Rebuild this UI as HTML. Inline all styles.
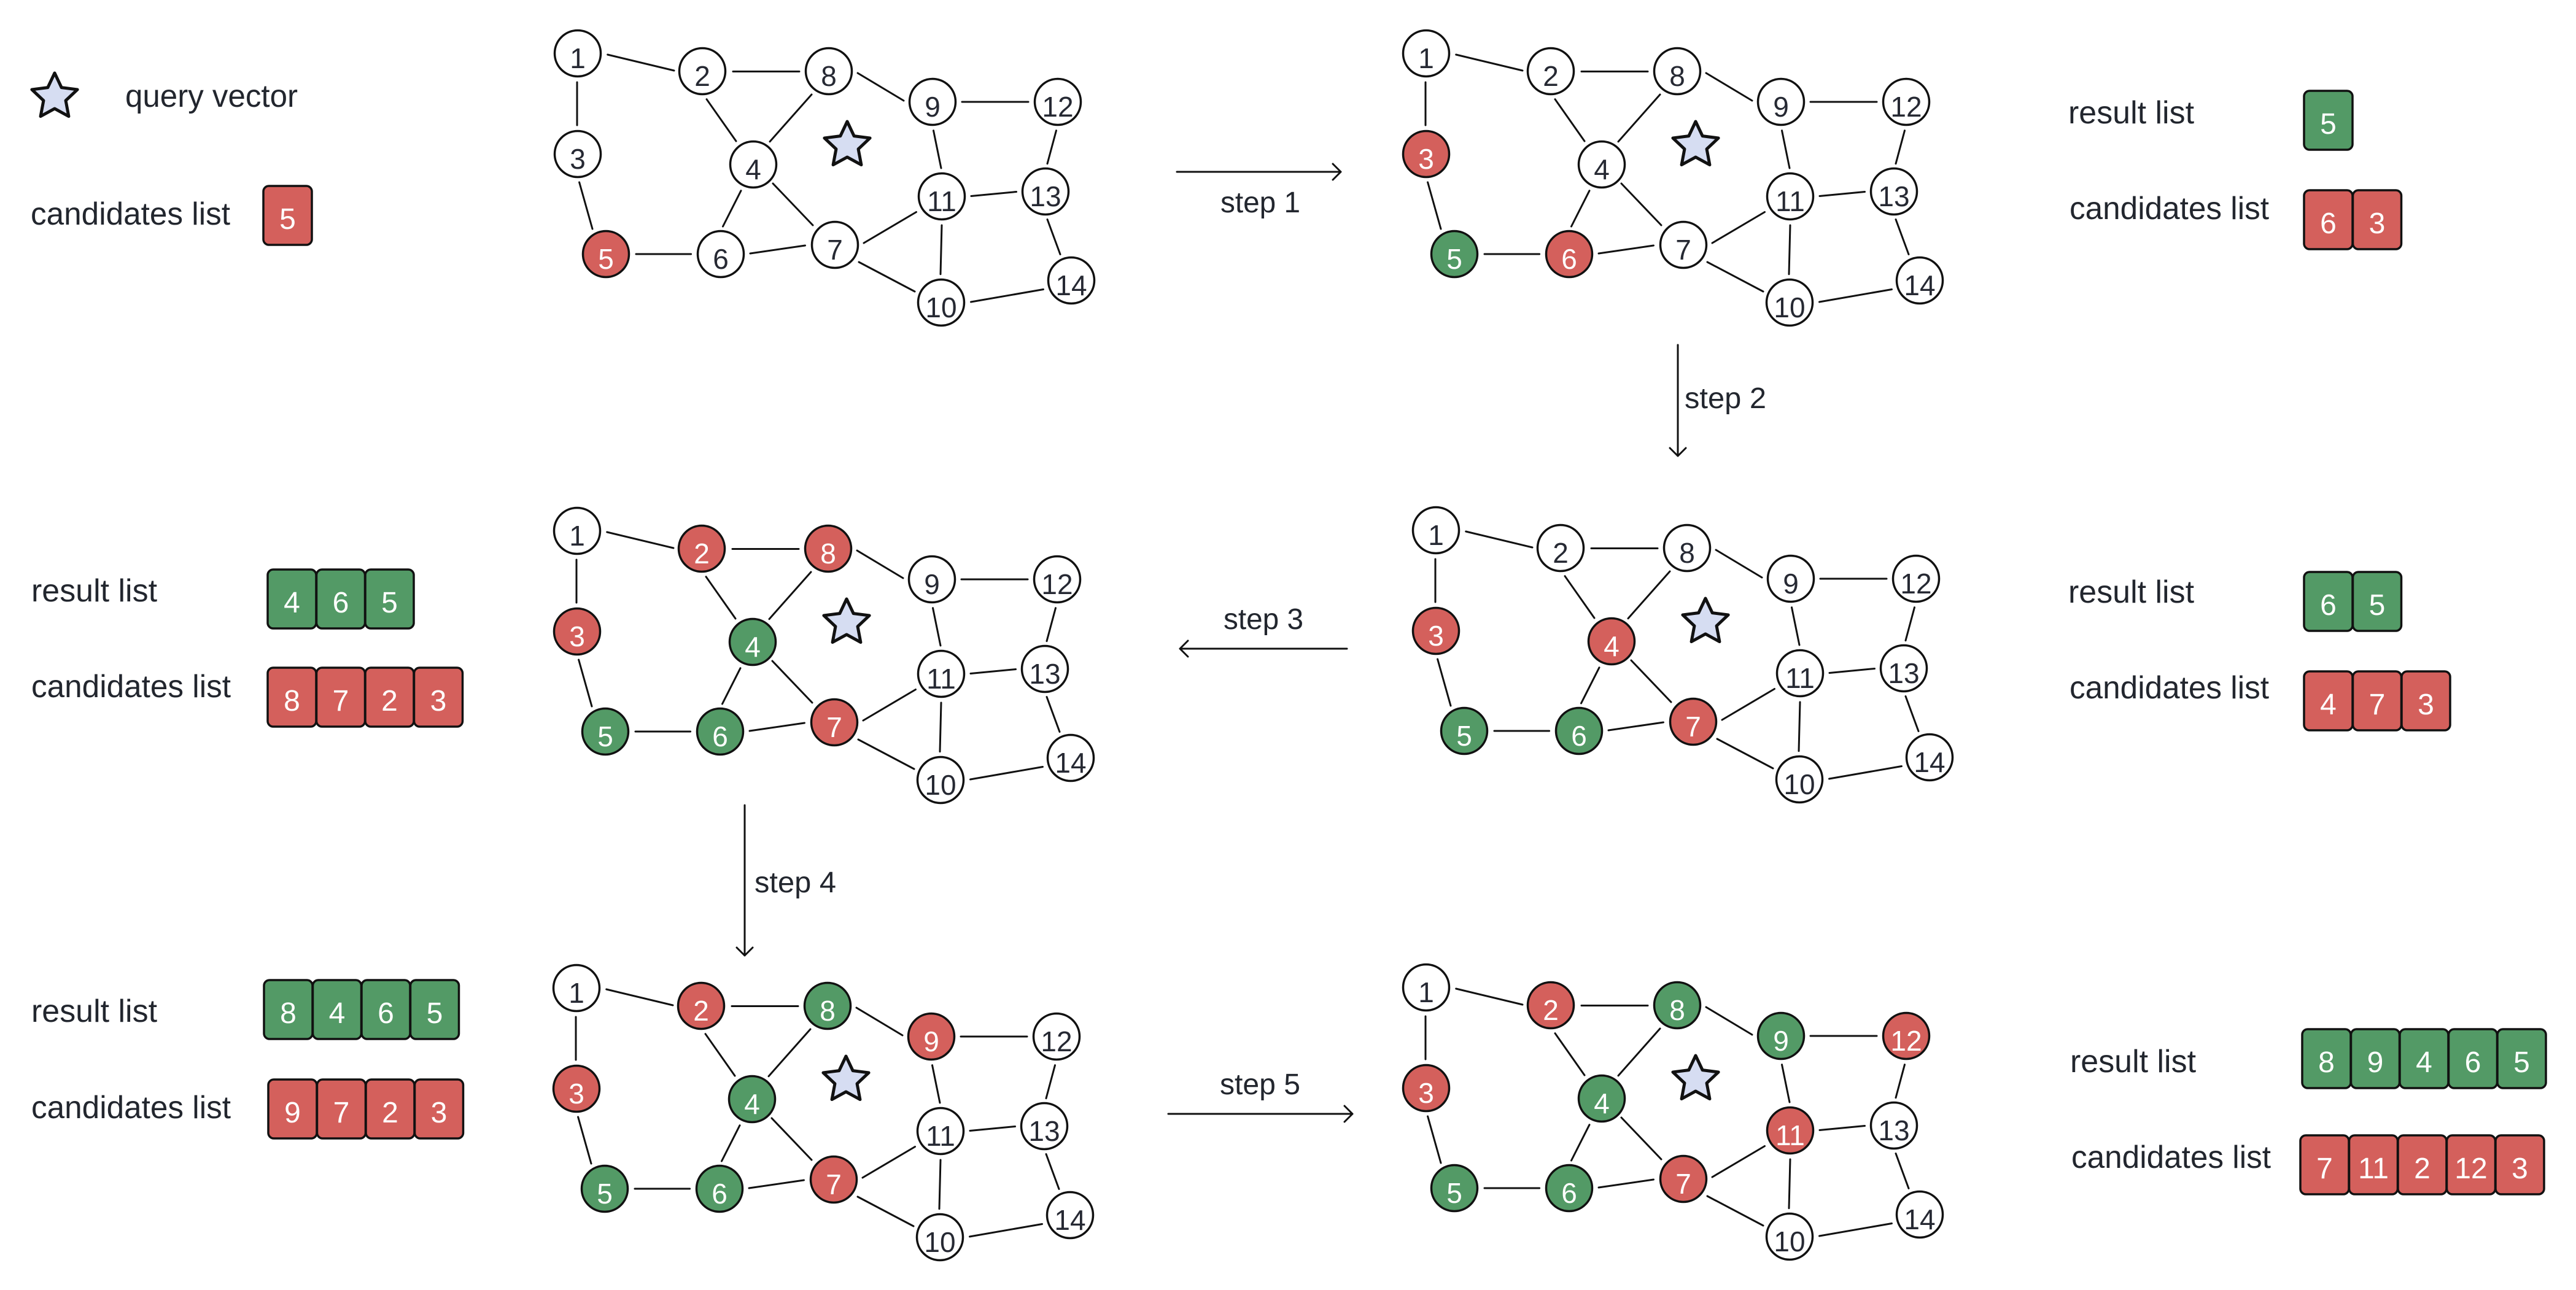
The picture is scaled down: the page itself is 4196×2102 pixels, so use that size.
<!DOCTYPE html>
<html>
<head>
<meta charset="utf-8">
<style>
html,body{margin:0;padding:0;background:#fff;}
svg{display:block;}
text{font-family:"Liberation Sans","DejaVu Sans",sans-serif;}
.lbl{font-size:52px;fill:#22262e;}
.st{font-size:48px;fill:#22262e;}
.nd circle{stroke:#111;stroke-width:3.5;}
.nd text{font-size:46px;text-anchor:middle;fill:#262933;}
.nd text.o{fill:#fff;}
.w{fill:#fff;}
.r{fill:#d4605c;}
.g{fill:#539a66;}
.bx rect{stroke:#111;stroke-width:3.5;}
.bx text{font-size:48px;fill:#fff;text-anchor:middle;}
.ar{fill:none;stroke:#111;stroke-width:3;stroke-linecap:round;stroke-linejoin:round;}
</style>
</head>
<body>
<svg width="4196" height="2102" viewBox="0 0 4196 2102" xmlns="http://www.w3.org/2000/svg">
<defs>
<path id="star" d="M0,-39 L11.17,-15.37 L37.09,-12.05 L18.07,5.87 L22.92,31.55 L0,19 L-22.92,31.55 L-18.07,5.87 L-37.09,-12.05 L-11.17,-15.37 Z" fill="#d6ddf2" stroke="#111" stroke-width="5" stroke-linejoin="round"/>
<g id="edges" stroke="#111" stroke-width="3" stroke-linecap="round" fill="none">
<line x1="989.7" y1="89" x2="1098" y2="115"/>
<line x1="940" y1="134" x2="940" y2="204"/>
<line x1="1194" y1="116.5" x2="1302" y2="116.5"/>
<line x1="1151" y1="161.7" x2="1199" y2="230"/>
<line x1="1322" y1="154" x2="1254" y2="230.7"/>
<line x1="1397" y1="119" x2="1472" y2="164"/>
<line x1="1567" y1="166" x2="1675" y2="166"/>
<line x1="1520.5" y1="212.7" x2="1533" y2="274"/>
<line x1="1720.5" y1="212.7" x2="1706" y2="266.7"/>
<line x1="943.6" y1="297" x2="965" y2="373"/>
<line x1="1207" y1="310.7" x2="1177.5" y2="369"/>
<line x1="1259" y1="299" x2="1324" y2="367"/>
<line x1="1036" y1="414" x2="1125.6" y2="414"/>
<line x1="1222" y1="413" x2="1311.5" y2="400"/>
<line x1="1407" y1="396" x2="1492.5" y2="345.5"/>
<line x1="1399" y1="427" x2="1490" y2="475"/>
<line x1="1582" y1="319.5" x2="1655.5" y2="312.5"/>
<line x1="1534" y1="367" x2="1532" y2="446.7"/>
<line x1="1706" y1="357.5" x2="1727" y2="414.5"/>
<line x1="1581.5" y1="492" x2="1699.5" y2="471.5"/>
</g>
</defs>

<!-- Legend top-left -->
<use href="#star" transform="translate(89,158)"/>
<text class="lbl" x="204" y="174" textLength="281" lengthAdjust="spacingAndGlyphs">query vector</text>
<text class="lbl" x="50" y="366" textLength="325" lengthAdjust="spacingAndGlyphs">candidates list</text>
<g class="bx">
<rect x="429" y="303" width="79" height="96" rx="9" class="r"/><text x="468.5" y="373">5</text>
</g>

<!-- Graph TL -->
<g transform="translate(0,0)">
<use href="#edges"/>
<use href="#star" transform="translate(1380,237)"/>
<g class="nd">
<circle cx="941" cy="87" r="37.5" class="w"/><text x="941" y="111">1</text>
<circle cx="1144" cy="116" r="37.5" class="w"/><text x="1144" y="140">2</text>
<circle cx="1350" cy="116" r="37.5" class="w"/><text x="1350" y="140">8</text>
<circle cx="1519" cy="166" r="37.5" class="w"/><text x="1519" y="190">9</text>
<circle cx="1723" cy="166" r="37.5" class="w"/><text x="1723" y="190">12</text>
<circle cx="941" cy="251" r="37.5" class="w"/><text x="941" y="275">3</text>
<circle cx="1227" cy="268" r="37.5" class="w"/><text x="1227" y="292">4</text>
<circle cx="1534" cy="320" r="37.5" class="w"/><text x="1534" y="344">11</text>
<circle cx="1703" cy="312" r="37.5" class="w"/><text x="1703" y="336">13</text>
<circle cx="987" cy="414" r="37.5" class="r"/><text x="987" y="438" class="o">5</text>
<circle cx="1174" cy="414" r="37.5" class="w"/><text x="1174" y="438">6</text>
<circle cx="1360" cy="399" r="37.5" class="w"/><text x="1360" y="423">7</text>
<circle cx="1533" cy="493" r="37.5" class="w"/><text x="1533" y="517">10</text>
<circle cx="1745" cy="457" r="37.5" class="w"/><text x="1745" y="481">14</text>
</g>
</g>

<!-- Graph TR -->
<g transform="translate(1382,0)">
<use href="#edges"/>
<use href="#star" transform="translate(1380,237)"/>
<g class="nd">
<circle cx="941" cy="87" r="37.5" class="w"/><text x="941" y="111">1</text>
<circle cx="1144" cy="116" r="37.5" class="w"/><text x="1144" y="140">2</text>
<circle cx="1350" cy="116" r="37.5" class="w"/><text x="1350" y="140">8</text>
<circle cx="1519" cy="166" r="37.5" class="w"/><text x="1519" y="190">9</text>
<circle cx="1723" cy="166" r="37.5" class="w"/><text x="1723" y="190">12</text>
<circle cx="941" cy="251" r="37.5" class="r"/><text x="941" y="275" class="o">3</text>
<circle cx="1227" cy="268" r="37.5" class="w"/><text x="1227" y="292">4</text>
<circle cx="1534" cy="320" r="37.5" class="w"/><text x="1534" y="344">11</text>
<circle cx="1703" cy="312" r="37.5" class="w"/><text x="1703" y="336">13</text>
<circle cx="987" cy="414" r="37.5" class="g"/><text x="987" y="438" class="o">5</text>
<circle cx="1174" cy="414" r="37.5" class="r"/><text x="1174" y="438" class="o">6</text>
<circle cx="1360" cy="399" r="37.5" class="w"/><text x="1360" y="423">7</text>
<circle cx="1533" cy="493" r="37.5" class="w"/><text x="1533" y="517">10</text>
<circle cx="1745" cy="457" r="37.5" class="w"/><text x="1745" y="481">14</text>
</g>
</g>

<!-- Graph ML -->
<g transform="translate(-1,778)">
<use href="#edges"/>
<use href="#star" transform="translate(1380,237)"/>
<g class="nd">
<circle cx="941" cy="87" r="37.5" class="w"/><text x="941" y="111">1</text>
<circle cx="1144" cy="116" r="37.5" class="r"/><text x="1144" y="140" class="o">2</text>
<circle cx="1350" cy="116" r="37.5" class="r"/><text x="1350" y="140" class="o">8</text>
<circle cx="1519" cy="166" r="37.5" class="w"/><text x="1519" y="190">9</text>
<circle cx="1723" cy="166" r="37.5" class="w"/><text x="1723" y="190">12</text>
<circle cx="941" cy="251" r="37.5" class="r"/><text x="941" y="275" class="o">3</text>
<circle cx="1227" cy="268" r="37.5" class="g"/><text x="1227" y="292" class="o">4</text>
<circle cx="1534" cy="320" r="37.5" class="w"/><text x="1534" y="344">11</text>
<circle cx="1703" cy="312" r="37.5" class="w"/><text x="1703" y="336">13</text>
<circle cx="987" cy="414" r="37.5" class="g"/><text x="987" y="438" class="o">5</text>
<circle cx="1174" cy="414" r="37.5" class="g"/><text x="1174" y="438" class="o">6</text>
<circle cx="1360" cy="399" r="37.5" class="r"/><text x="1360" y="423" class="o">7</text>
<circle cx="1533" cy="493" r="37.5" class="w"/><text x="1533" y="517">10</text>
<circle cx="1745" cy="457" r="37.5" class="w"/><text x="1745" y="481">14</text>
</g>
</g>

<!-- Graph MR -->
<g transform="translate(1398,777)">
<use href="#edges"/>
<use href="#star" transform="translate(1380,237)"/>
<g class="nd">
<circle cx="941" cy="87" r="37.5" class="w"/><text x="941" y="111">1</text>
<circle cx="1144" cy="116" r="37.5" class="w"/><text x="1144" y="140">2</text>
<circle cx="1350" cy="116" r="37.5" class="w"/><text x="1350" y="140">8</text>
<circle cx="1519" cy="166" r="37.5" class="w"/><text x="1519" y="190">9</text>
<circle cx="1723" cy="166" r="37.5" class="w"/><text x="1723" y="190">12</text>
<circle cx="941" cy="251" r="37.5" class="r"/><text x="941" y="275" class="o">3</text>
<circle cx="1227" cy="268" r="37.5" class="r"/><text x="1227" y="292" class="o">4</text>
<circle cx="1534" cy="320" r="37.5" class="w"/><text x="1534" y="344">11</text>
<circle cx="1703" cy="312" r="37.5" class="w"/><text x="1703" y="336">13</text>
<circle cx="987" cy="414" r="37.5" class="g"/><text x="987" y="438" class="o">5</text>
<circle cx="1174" cy="414" r="37.5" class="g"/><text x="1174" y="438" class="o">6</text>
<circle cx="1360" cy="399" r="37.5" class="r"/><text x="1360" y="423" class="o">7</text>
<circle cx="1533" cy="493" r="37.5" class="w"/><text x="1533" y="517">10</text>
<circle cx="1745" cy="457" r="37.5" class="w"/><text x="1745" y="481">14</text>
</g>
</g>

<!-- Graph BL -->
<g transform="translate(-2,1523)">
<use href="#edges"/>
<use href="#star" transform="translate(1380,237)"/>
<g class="nd">
<circle cx="941" cy="87" r="37.5" class="w"/><text x="941" y="111">1</text>
<circle cx="1144" cy="116" r="37.5" class="r"/><text x="1144" y="140" class="o">2</text>
<circle cx="1350" cy="116" r="37.5" class="g"/><text x="1350" y="140" class="o">8</text>
<circle cx="1519" cy="166" r="37.5" class="r"/><text x="1519" y="190" class="o">9</text>
<circle cx="1723" cy="166" r="37.5" class="w"/><text x="1723" y="190">12</text>
<circle cx="941" cy="251" r="37.5" class="r"/><text x="941" y="275" class="o">3</text>
<circle cx="1227" cy="268" r="37.5" class="g"/><text x="1227" y="292" class="o">4</text>
<circle cx="1534" cy="320" r="37.5" class="w"/><text x="1534" y="344">11</text>
<circle cx="1703" cy="312" r="37.5" class="w"/><text x="1703" y="336">13</text>
<circle cx="987" cy="414" r="37.5" class="g"/><text x="987" y="438" class="o">5</text>
<circle cx="1174" cy="414" r="37.5" class="g"/><text x="1174" y="438" class="o">6</text>
<circle cx="1360" cy="399" r="37.5" class="r"/><text x="1360" y="423" class="o">7</text>
<circle cx="1533" cy="493" r="37.5" class="w"/><text x="1533" y="517">10</text>
<circle cx="1745" cy="457" r="37.5" class="w"/><text x="1745" y="481">14</text>
</g>
</g>

<!-- Graph BR -->
<g transform="translate(1382,1522)">
<use href="#edges"/>
<use href="#star" transform="translate(1380,237)"/>
<g class="nd">
<circle cx="941" cy="87" r="37.5" class="w"/><text x="941" y="111">1</text>
<circle cx="1144" cy="116" r="37.5" class="r"/><text x="1144" y="140" class="o">2</text>
<circle cx="1350" cy="116" r="37.5" class="g"/><text x="1350" y="140" class="o">8</text>
<circle cx="1519" cy="166" r="37.5" class="g"/><text x="1519" y="190" class="o">9</text>
<circle cx="1723" cy="166" r="37.5" class="r"/><text x="1723" y="190" class="o">12</text>
<circle cx="941" cy="251" r="37.5" class="r"/><text x="941" y="275" class="o">3</text>
<circle cx="1227" cy="268" r="37.5" class="g"/><text x="1227" y="292" class="o">4</text>
<circle cx="1534" cy="320" r="37.5" class="r"/><text x="1534" y="344" class="o">11</text>
<circle cx="1703" cy="312" r="37.5" class="w"/><text x="1703" y="336">13</text>
<circle cx="987" cy="414" r="37.5" class="g"/><text x="987" y="438" class="o">5</text>
<circle cx="1174" cy="414" r="37.5" class="g"/><text x="1174" y="438" class="o">6</text>
<circle cx="1360" cy="399" r="37.5" class="r"/><text x="1360" y="423" class="o">7</text>
<circle cx="1533" cy="493" r="37.5" class="w"/><text x="1533" y="517">10</text>
<circle cx="1745" cy="457" r="37.5" class="w"/><text x="1745" y="481">14</text>
</g>
</g>

<!-- Arrows -->
<path class="ar" d="M1917 280 H2184 M2171 267 L2184 280 L2171 293"/>
<text class="st" x="1988" y="346" textLength="130" lengthAdjust="spacingAndGlyphs">step 1</text>
<path class="ar" d="M2733 562 V743 M2720 730 L2733 743 L2746 730"/>
<text class="st" x="2744" y="665" textLength="133" lengthAdjust="spacingAndGlyphs">step 2</text>
<path class="ar" d="M2194 1057 H1922 M1935 1044 L1922 1057 L1935 1070"/>
<text class="st" x="1993" y="1025" textLength="130" lengthAdjust="spacingAndGlyphs">step 3</text>
<path class="ar" d="M1213 1312 V1557 M1200 1544 L1213 1557 L1226 1544"/>
<text class="st" x="1229" y="1454" textLength="133" lengthAdjust="spacingAndGlyphs">step 4</text>
<path class="ar" d="M1903 1815 H2203 M2190 1802 L2203 1815 L2190 1828"/>
<text class="st" x="1987" y="1783" textLength="131" lengthAdjust="spacingAndGlyphs">step 5</text>

<!-- Lists middle-left -->
<text class="lbl" x="51" y="980" textLength="205" lengthAdjust="spacingAndGlyphs">result list</text>
<text class="lbl" x="51" y="1136" textLength="325" lengthAdjust="spacingAndGlyphs">candidates list</text>
<g class="bx">
<rect x="436" y="928" width="79" height="96" rx="9" class="g"/><text x="475.5" y="998">4</text>
<rect x="515.5" y="928" width="79" height="96" rx="9" class="g"/><text x="555" y="998">6</text>
<rect x="595" y="928" width="79" height="96" rx="9" class="g"/><text x="634.5" y="998">5</text>
<rect x="436" y="1088" width="79" height="96" rx="9" class="r"/><text x="475.5" y="1158">8</text>
<rect x="515.5" y="1088" width="79" height="96" rx="9" class="r"/><text x="555" y="1158">7</text>
<rect x="595" y="1088" width="79" height="96" rx="9" class="r"/><text x="634.5" y="1158">2</text>
<rect x="674.5" y="1088" width="79" height="96" rx="9" class="r"/><text x="714" y="1158">3</text>
</g>

<!-- Lists bottom-left -->
<text class="lbl" x="51" y="1665" textLength="205" lengthAdjust="spacingAndGlyphs">result list</text>
<text class="lbl" x="51" y="1822" textLength="325" lengthAdjust="spacingAndGlyphs">candidates list</text>
<g class="bx">
<rect x="430" y="1597" width="79" height="96" rx="9" class="g"/><text x="469.5" y="1667">8</text>
<rect x="509.5" y="1597" width="79" height="96" rx="9" class="g"/><text x="549" y="1667">4</text>
<rect x="589" y="1597" width="79" height="96" rx="9" class="g"/><text x="628.5" y="1667">6</text>
<rect x="668.5" y="1597" width="79" height="96" rx="9" class="g"/><text x="708" y="1667">5</text>
<rect x="437" y="1759" width="79" height="96" rx="9" class="r"/><text x="476.5" y="1829">9</text>
<rect x="516.5" y="1759" width="79" height="96" rx="9" class="r"/><text x="556" y="1829">7</text>
<rect x="596" y="1759" width="79" height="96" rx="9" class="r"/><text x="635.5" y="1829">2</text>
<rect x="675.5" y="1759" width="79" height="96" rx="9" class="r"/><text x="715" y="1829">3</text>
</g>

<!-- Lists top-right -->
<text class="lbl" x="3369" y="201" textLength="205" lengthAdjust="spacingAndGlyphs">result list</text>
<text class="lbl" x="3371" y="357" textLength="325" lengthAdjust="spacingAndGlyphs">candidates list</text>
<g class="bx">
<rect x="3753" y="148" width="79" height="96" rx="9" class="g"/><text x="3792.5" y="218">5</text>
<rect x="3753" y="310" width="79" height="96" rx="9" class="r"/><text x="3792.5" y="380">6</text>
<rect x="3832.5" y="310" width="79" height="96" rx="9" class="r"/><text x="3872" y="380">3</text>
</g>

<!-- Lists middle-right -->
<text class="lbl" x="3369" y="982" textLength="205" lengthAdjust="spacingAndGlyphs">result list</text>
<text class="lbl" x="3371" y="1138" textLength="325" lengthAdjust="spacingAndGlyphs">candidates list</text>
<g class="bx">
<rect x="3753" y="932" width="79" height="96" rx="9" class="g"/><text x="3792.5" y="1002">6</text>
<rect x="3832.5" y="932" width="79" height="96" rx="9" class="g"/><text x="3872" y="1002">5</text>
<rect x="3753" y="1094" width="79" height="96" rx="9" class="r"/><text x="3792.5" y="1164">4</text>
<rect x="3832.5" y="1094" width="79" height="96" rx="9" class="r"/><text x="3872" y="1164">7</text>
<rect x="3912" y="1094" width="79" height="96" rx="9" class="r"/><text x="3951.5" y="1164">3</text>
</g>

<!-- Lists bottom-right -->
<text class="lbl" x="3372" y="1747" textLength="205" lengthAdjust="spacingAndGlyphs">result list</text>
<text class="lbl" x="3374" y="1903" textLength="325" lengthAdjust="spacingAndGlyphs">candidates list</text>
<g class="bx">
<rect x="3750" y="1677" width="79" height="96" rx="9" class="g"/><text x="3789.5" y="1747">8</text>
<rect x="3829.5" y="1677" width="79" height="96" rx="9" class="g"/><text x="3869" y="1747">9</text>
<rect x="3909" y="1677" width="79" height="96" rx="9" class="g"/><text x="3948.5" y="1747">4</text>
<rect x="3988.5" y="1677" width="79" height="96" rx="9" class="g"/><text x="4028" y="1747">6</text>
<rect x="4068" y="1677" width="79" height="96" rx="9" class="g"/><text x="4107.5" y="1747">5</text>
<rect x="3747" y="1850" width="79" height="96" rx="9" class="r"/><text x="3786.5" y="1920">7</text>
<rect x="3826.5" y="1850" width="79" height="96" rx="9" class="r"/><text x="3866" y="1920">11</text>
<rect x="3906" y="1850" width="79" height="96" rx="9" class="r"/><text x="3945.5" y="1920">2</text>
<rect x="3985.5" y="1850" width="79" height="96" rx="9" class="r"/><text x="4025" y="1920">12</text>
<rect x="4065" y="1850" width="79" height="96" rx="9" class="r"/><text x="4104.5" y="1920">3</text>
</g>
</svg>
</body>
</html>
